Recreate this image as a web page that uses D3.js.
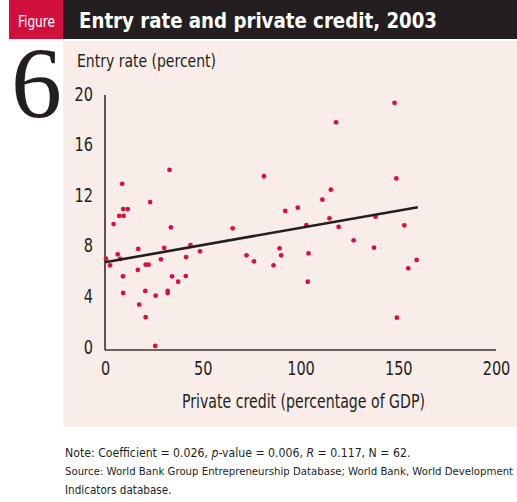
<!DOCTYPE html>
<meta charset="utf-8">
<title>Entry rate and private credit, 2003</title>
<style>
  body { margin: 0; background: #fff; }
  svg text { font-family: "Liberation Sans Narrow", "DejaVu Sans Condensed", sans-serif; }
</style>
<svg id="chart"></svg>
<script src="https://cdn.jsdelivr.net/npm/d3@7"></script>
<script>
// private credit (% of GDP)
var credit = [33, 8.8, 23.1, 9.3, 11.6, 7.3, 9.5, 4.4, 33.7, 0.5,
  2.6, 6.5, 7.8, 17.0, 30.3, 43.7, 48.6, 28.6, 41.5, 16.8,
  20.8, 22.3, 9.2, 34.3, 41.3, 37.4, 9.3, 20.6, 32.1, 32.1,
  25.9, 17.5, 20.8, 25.7, 118.2, 81.3, 115.5, 111.2, 98.6, 92.2,
  114.8, 65.3, 103, 119.5, 127.2, 89.3, 72.4, 90.1, 104.1, 76.2,
  86.2, 103.7, 148.1, 149, 138.4, 153.1, 137.6, 159.4, 155.1, 149.3];
// entry rate (percent)
var entry = [14.0, 12.9, 11.46, 10.9, 10.9, 10.36, 10.36, 9.72, 9.46, 6.98,
  6.46, 7.33, 6.96, 7.75, 7.83, 8.06, 7.56, 6.93, 7.11, 6.09,
  6.51, 6.51, 5.59, 5.59, 5.61, 5.16, 4.27, 4.43, 4.43, 4.27,
  4.06, 3.35, 2.35, 0.08, 17.76, 13.5, 12.44, 11.65, 11.01, 10.75,
  10.17, 9.38, 9.64, 9.49, 8.43, 7.8, 7.25, 7.25, 7.4, 6.77,
  6.46, 5.16, 19.3, 13.33, 10.3, 9.62, 7.85, 6.88, 6.22, 2.32];
var fitX = [0, 160];
var fitY = [6.7, 11.05];
var xTicks = [0, 50, 100, 150, 200];
var yTicks = [0, 4, 8, 12, 16, 20];

var width = 517, height = 502;
var svg = d3.select('#chart').attr('width', width).attr('height', height);

// squeeze a text to a given width (the original face is narrow)
function fit(sel, w) {
  return sel.attr('textLength', w).attr('lengthAdjust', 'spacingAndGlyphs');
}

// header
svg.append('rect').attr('x', 9).attr('y', 0).attr('width', 54).attr('height', 39).attr('fill', '#d2103f');
svg.append('rect').attr('x', 63).attr('y', 0).attr('width', width - 63).attr('height', 39).attr('fill', '#231f20');
fit(svg.append('text').attr('x', 18).attr('y', 27).attr('fill', '#fff')
  .attr('font-size', 15).text('Figure'), 37);
fit(svg.append('text').attr('x', 79).attr('y', 28).attr('fill', '#fff')
  .attr('font-size', 21).attr('font-weight', 'bold')
  .text('Entry rate and private credit, 2003'), 358);

// panel
svg.append('rect').attr('x', 63).attr('y', 41).attr('width', width - 63).attr('height', 386).attr('fill', '#f9ede9');

// big figure number
svg.append('text').attr('x', 11).attr('y', 118)
  .style('font-family', '"Liberation Serif", "DejaVu Serif", serif')
  .attr('font-size', 102).attr('fill', '#231f20').text('6');

var x = d3.scaleLinear().domain([0, 200]).range([105, 496]);
var y = d3.scaleLinear().domain([0, 20]).range([347, 94]);

fit(svg.append('text').attr('x', 77).attr('y', 67).attr('font-size', 17).attr('fill', '#231f20')
  .text('Entry rate (percent)'), 139);

var yAxis = svg.append('g').attr('transform', 'translate(105,0)')
  .call(d3.axisLeft(y).tickValues(yTicks).tickSize(0).tickPadding(12));
var xAxis = svg.append('g').attr('transform', 'translate(0,350)')
  .call(d3.axisBottom(x).tickValues(xTicks).tickSize(0).tickPadding(12));
[xAxis, yAxis].forEach(function(g) {
  g.select('.domain').remove();
  g.selectAll('text').attr('font-size', 19).attr('fill', '#231f20')
    .style('font-family', '"Liberation Sans Narrow", "DejaVu Sans Condensed", sans-serif')
    .attr('transform', 'scale(0.85,1)');
});
// the squeeze also pulls the y labels' offset in, so push it back
yAxis.selectAll('text').attr('x', -12 / 0.85);

svg.append('line').attr('x1', 105).attr('x2', 105).attr('y1', 95).attr('y2', 350)
  .attr('stroke', '#231f20').attr('stroke-width', 1.5);
svg.append('line').attr('x1', 105).attr('x2', 496).attr('y1', 350).attr('y2', 350)
  .attr('stroke', '#3a3536').attr('stroke-width', 1.5);

fit(svg.append('text').attr('x', 182).attr('y', 408)
  .attr('font-size', 20).attr('fill', '#231f20')
  .text('Private credit (percentage of GDP)'), 243);

// points
svg.append('g').selectAll('circle')
  .data(d3.range(credit.length))
  .enter().append('circle')
  .attr('cx', function(i) { return x(credit[i]); })
  .attr('cy', function(i) { return y(entry[i]); })
  .attr('r', 2.4)
  .attr('fill', '#d7123f');

// fitted line
var line = d3.line().x(function(i) { return x(fitX[i]); }).y(function(i) { return y(fitY[i]); });
svg.append('path').attr('d', line([0, 1]))
  .attr('stroke', '#231f20').attr('stroke-width', 2.6).attr('fill', 'none');

// notes
var note = svg.append('text').attr('x', 65).attr('y', 457).attr('font-size', 12.2).attr('fill', '#231f20');
note.append('tspan').text('Note: Coefficient  =  0.026, ');
note.append('tspan').attr('font-style', 'italic').text('p');
note.append('tspan').text('-value  =  0.006, ');
note.append('tspan').attr('font-style', 'italic').text('R');
note.append('tspan').text('  =  0.117, N  =  62.');

svg.append('text').attr('x', 65).attr('y', 475).attr('font-size', 11.3).attr('fill', '#231f20')
  .text('Source: World Bank Group Entrepreneurship Database; World Bank, World Development');
svg.append('text').attr('x', 65).attr('y', 494).attr('font-size', 11.6).attr('fill', '#231f20')
  .text('Indicators  database.');
</script>
